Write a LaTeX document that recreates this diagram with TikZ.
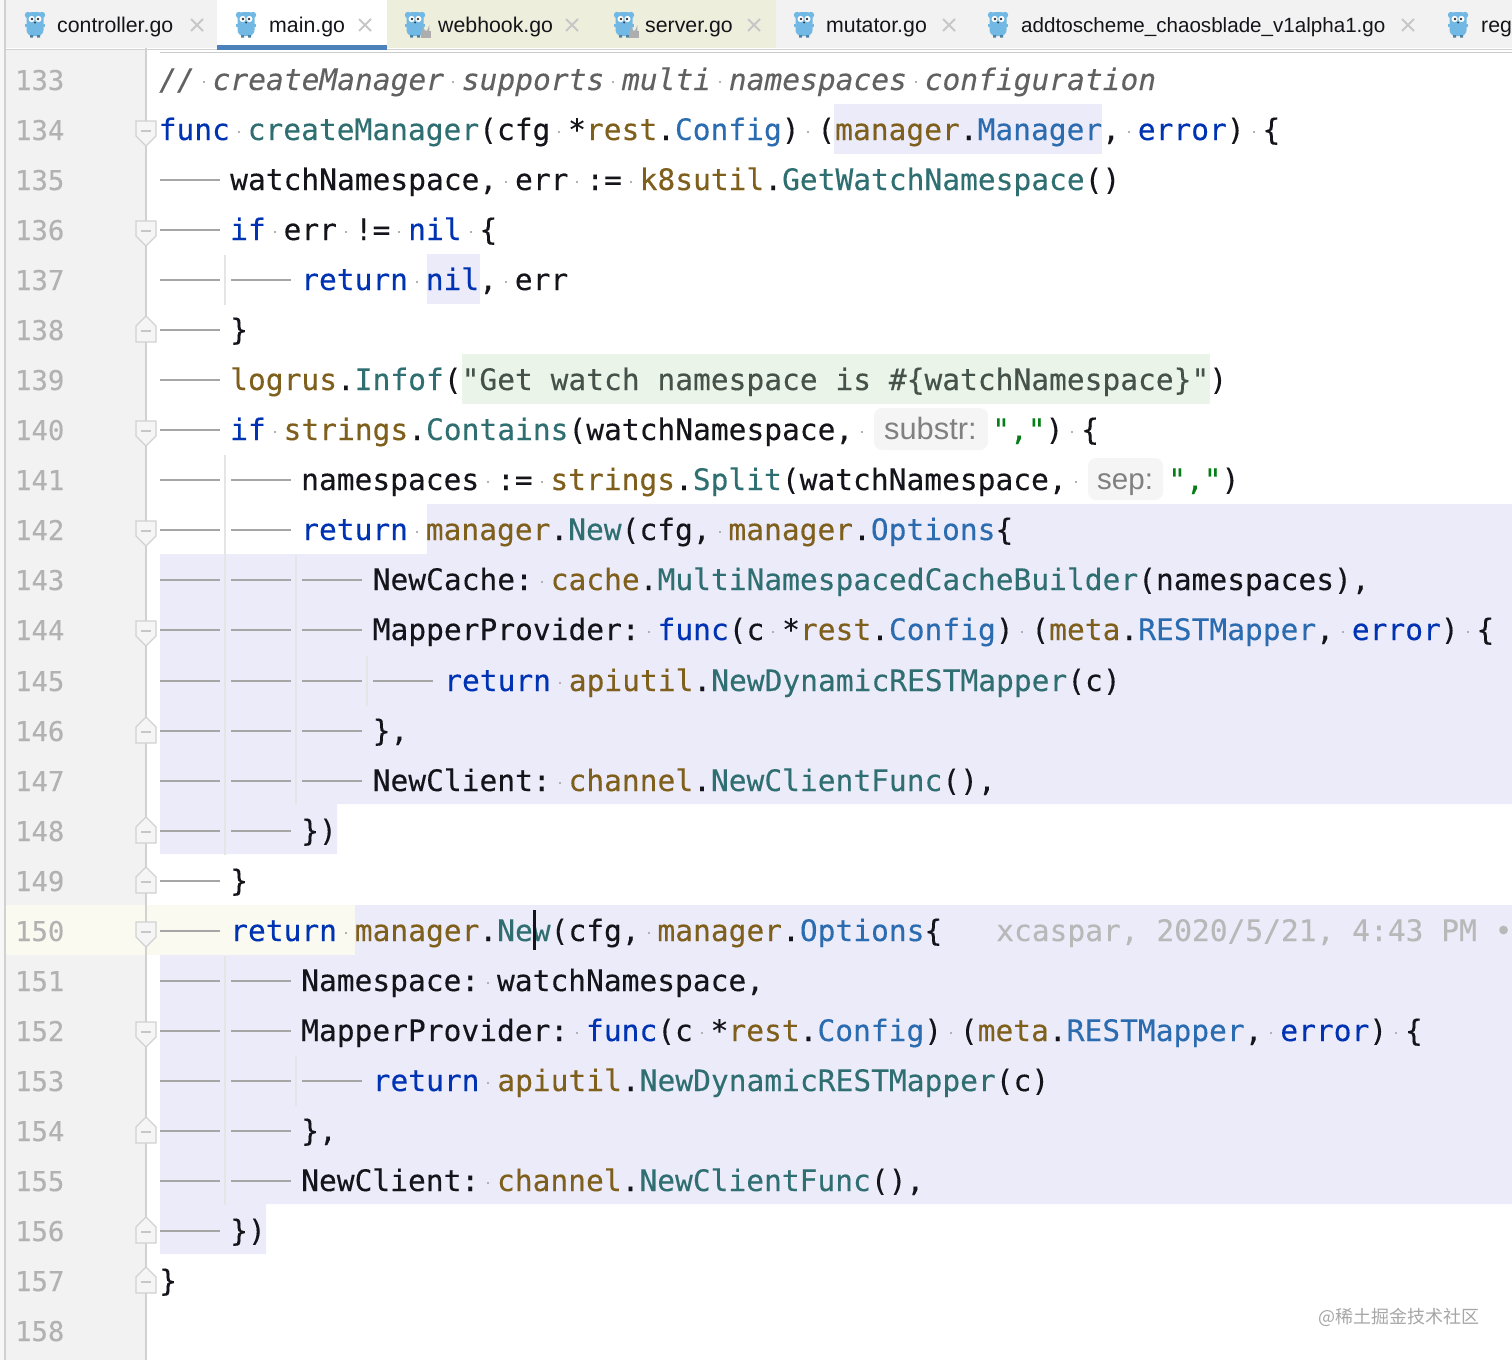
\documentclass[tikz,border=0pt]{standalone}
\usepackage{fontspec}
\setmainfont{Liberation Sans}
\newfontfamily\codeface{DejaVu Sans Mono}[FakeBold=0.25]
\newfontfamily\cjkface{Noto Sans CJK SC}
\newcommand{\codefont}{\codeface\fontsize{29.57}{32}\selectfont}
\newcommand{\numfont}{\codeface\fontsize{27.2}{30}\selectfont}

\definecolor{kwdcol}{HTML}{0033B3}
\definecolor{pkgcol}{HTML}{7F5F1C}
\definecolor{typcol}{HTML}{2B6CB0}
\definecolor{fnccol}{HTML}{2F6F72}
\definecolor{strcol}{HTML}{067D17}
\definecolor{msgcol}{HTML}{44524A}
\definecolor{inkcol}{HTML}{14141A}
\definecolor{selcol}{HTML}{ECEBFA}
\definecolor{grncol}{HTML}{EBF4E8}
\definecolor{curcol}{HTML}{FAFAF0}
\definecolor{guttercol}{HTML}{F2F2F2}
\definecolor{beigecol}{HTML}{EEEEDC}
\definecolor{goblue}{HTML}{72B8E4}

\newcommand{\kwd}[1]{\textcolor{kwdcol}{#1}}
\newcommand{\pkg}[1]{\textcolor{pkgcol}{#1}}
\newcommand{\typ}[1]{\textcolor{typcol}{#1}}
\newcommand{\fnc}[1]{\textcolor{fnccol}{#1}}
\newcommand{\strg}[1]{\textcolor{strcol}{#1}}
\newcommand{\wsp}{\makebox[17.8pt]{\textcolor{black!30}{\raisebox{7pt}{\rule{2pt}{2pt}}}}}

\tikzset{
  code/.style={anchor=base west,inner sep=0pt,font=\codefont,text=inkcol},
  lineno/.style={anchor=base west,inner sep=0pt,font=\numfont,text=black!30},
  tabname/.style={anchor=base west,inner sep=0pt,font=\fontsize{21.3}{24}\selectfont,text=inkcol},
  hintname/.style={anchor=base west,inner sep=0pt,font=\fontsize{29.5}{32}\selectfont,text=black!50},
  hintbox/.style={fill=black!4,rounded corners=8pt},
  indent/.style={draw=black!35,line width=1.8pt},
  guide/.style={draw=black!10,line width=1.5pt},
  tabclose/.style={draw=black!22,line width=1.8pt},
  gopher/.pic={
    \fill[goblue] (-7,-10) circle (3.2) (7,-10) circle (3.2);
    \fill[goblue,rounded corners=6pt] (-8.5,-13) rectangle (8.5,11);
    \fill[goblue] (-10,-1) rectangle (10,2);
    \fill[goblue!70!black] (-5,10) rectangle (-2,12.5) (2,10) rectangle (5,12.5);
    \fill[white] (-3.4,-6) circle (3.1) (3.4,-6) circle (3.1);
    \fill[black!80] (-3,-6) circle (1.3) (3,-6) circle (1.3) (0,-2.5) circle (1);
  },
  golock/.pic={
    \draw[black!32,line width=1.5pt] (-2.6,0) -- (-2.6,-2) arc (180:0:2.6) -- (2.6,0);
    \fill[black!32] (-5,0) rectangle (5,7);
  },
  foldopen/.pic={
    \draw[draw=black!18,fill=white!96!black,line width=1.3pt] (-10,-9) -- (10,-9) -- (10,6) -- (0,16) -- (-10,6) -- cycle;
    \draw[draw=black!22,line width=1.5pt] (-5,1) -- (5,1);
  },
  foldclose/.pic={
    \draw[draw=black!18,fill=white!96!black,line width=1.3pt] (-10,12) -- (10,12) -- (10,-4) -- (0,-14) -- (-10,-4) -- cycle;
    \draw[draw=black!22,line width=1.5pt] (-5,1) -- (5,1);
  },
}

\begin{document}
\begin{tikzpicture}[x=1pt,y=-1pt]
\useasboundingbox (0,0) rectangle (1512,1360);

% Draw the gutter and the tab bar
\fill[black!3] (0,0) rectangle (5,1360);
\fill[guttercol] (5,50) rectangle (146,1360);
\fill[guttercol] (5,0) rectangle (1512,48);
\fill[white] (217,0) rectangle (387,48);
\fill[beigecol] (387,0) rectangle (776,48);

% Draw the line and selection backgrounds
\fill[curcol] (5,905) rectangle (355,955);
\fill[selcol] (834,104) rectangle (1102,154);
\fill[selcol] (427,254) rectangle (480,304);
\fill[grncol] (462,354) rectangle (1210,404);
\fill[selcol] (427,504) -- (1512,504) -- (1512,804) -- (337,804) -- (337,854) -- (160,854) -- (160,554) -- (427,554) -- cycle;
\fill[selcol] (355,905) -- (1512,905) -- (1512,1204) -- (266,1204) -- (266,1254) -- (160,1254) -- (160,955) -- (355,955) -- cycle;

% Draw the frame lines
\draw[black!18,line width=1.5pt] (5,0) -- (5,1360);
\draw[black!18,line width=1.5pt] (146,48) -- (146,1360);
\draw[black!18,line width=1.5pt] (5,49.5) -- (1512,49.5);
\draw[black!20,line width=1.2pt] (160,52.5) -- (1512,52.5);
\fill[typcol!85!white] (217,45) rectangle (387,50);

% Draw the tabs
\pic at (35,25) {gopher};
\node[tabname] (tabcontroller) at (57,32) {controller.go};
\draw[tabclose] (191,19) -- (203,31) (203,19) -- (191,31);
\pic at (246,25) {gopher};
\node[tabname] (tabmain) at (269,32) {main.go};
\draw[tabclose] (359,19) -- (371,31) (371,19) -- (359,31);
\pic at (415,25) {gopher};
\pic at (426,31) {golock};
\node[tabname] (tabwebhook) at (438,32) {webhook.go};
\draw[tabclose] (566,19) -- (578,31) (578,19) -- (566,31);
\pic at (624,25) {gopher};
\pic at (634,31) {golock};
\node[tabname] (tabserver) at (645,32) {server.go};
\draw[tabclose] (748,19) -- (760,31) (760,19) -- (748,31);
\pic at (804,25) {gopher};
\node[tabname] (tabmutator) at (826,32) {mutator.go};
\draw[tabclose] (943,19) -- (955,31) (955,19) -- (943,31);
\pic at (998,25) {gopher};
\node[tabname,font=\fontsize{20.6}{24}\selectfont] (tabscheme) at (1021,32) {addtoscheme\_chaosblade\_v1alpha1.go};
\draw[tabclose] (1402,19) -- (1414,31) (1414,19) -- (1402,31);
\pic at (1458,25) {gopher};
\node[tabname] (tabreg) at (1481,32) {reg};

% Draw the indent guides
\draw[guide] (225,255) -- (225,305);
\draw[guide] (225,455) -- (225,855);
\draw[guide] (225,956) -- (225,1205);
\draw[guide] (296,555) -- (296,805);
\draw[guide] (296,1056) -- (296,1106);
\draw[guide] (367,656) -- (367,706);

% Draw the indent marks
\draw[indent] (160,180) -- (220,180);
\draw[indent] (160,230) -- (220,230);
\draw[indent] (160,280) -- (220,280) (231,280) -- (291,280);
\draw[indent] (160,330) -- (220,330);
\draw[indent] (160,380) -- (220,380);
\draw[indent] (160,430) -- (220,430);
\draw[indent] (160,480) -- (220,480) (231,480) -- (291,480);
\draw[indent] (160,530) -- (220,530) (231,530) -- (291,530);
\draw[indent] (160,580) -- (220,580) (231,580) -- (291,580) (302,580) -- (362,580);
\draw[indent] (160,630) -- (220,630) (231,630) -- (291,630) (302,630) -- (362,630);
\draw[indent] (160,681) -- (220,681) (231,681) -- (291,681) (302,681) -- (362,681) (373,681) -- (433,681);
\draw[indent] (160,731) -- (220,731) (231,731) -- (291,731) (302,731) -- (362,731);
\draw[indent] (160,781) -- (220,781) (231,781) -- (291,781) (302,781) -- (362,781);
\draw[indent] (160,831) -- (220,831) (231,831) -- (291,831);
\draw[indent] (160,881) -- (220,881);
\draw[indent] (160,931) -- (220,931);
\draw[indent] (160,981) -- (220,981) (231,981) -- (291,981);
\draw[indent] (160,1031) -- (220,1031) (231,1031) -- (291,1031);
\draw[indent] (160,1081) -- (220,1081) (231,1081) -- (291,1081) (302,1081) -- (362,1081);
\draw[indent] (160,1131) -- (220,1131) (231,1131) -- (291,1131);
\draw[indent] (160,1181) -- (220,1181) (231,1181) -- (291,1181);
\draw[indent] (160,1231) -- (220,1231);

% Draw the fold marks
\pic at (146,130) {foldopen};
\pic at (146,230) {foldopen};
\pic at (146,330) {foldclose};
\pic at (146,430) {foldopen};
\pic at (146,530) {foldopen};
\pic at (146,630) {foldopen};
\pic at (146,731) {foldclose};
\pic at (146,831) {foldclose};
\pic at (146,881) {foldclose};
\pic at (146,931) {foldopen};
\pic at (146,1031) {foldopen};
\pic at (146,1131) {foldclose};
\pic at (146,1231) {foldclose};
\pic at (146,1281) {foldclose};

% Draw the line numbers
\node[lineno] (num133) at (15,90) {133};
\node[lineno] (num134) at (15,140) {134};
\node[lineno] (num135) at (15,190) {135};
\node[lineno] (num136) at (15,240) {136};
\node[lineno] (num137) at (15,290) {137};
\node[lineno] (num138) at (15,340) {138};
\node[lineno] (num139) at (15,390) {139};
\node[lineno] (num140) at (15,440) {140};
\node[lineno] (num141) at (15,490) {141};
\node[lineno] (num142) at (15,540) {142};
\node[lineno] (num143) at (15,590) {143};
\node[lineno] (num144) at (15,640) {144};
\node[lineno] (num145) at (15,691) {145};
\node[lineno] (num146) at (15,741) {146};
\node[lineno] (num147) at (15,791) {147};
\node[lineno] (num148) at (15,841) {148};
\node[lineno] (num149) at (15,891) {149};
\node[lineno] (num150) at (15,941) {150};
\node[lineno] (num151) at (15,991) {151};
\node[lineno] (num152) at (15,1041) {152};
\node[lineno] (num153) at (15,1091) {153};
\node[lineno] (num154) at (15,1141) {154};
\node[lineno] (num155) at (15,1191) {155};
\node[lineno] (num156) at (15,1241) {156};
\node[lineno] (num157) at (15,1291) {157};
\node[lineno] (num158) at (15,1341) {158};

% Draw the code lines
\node[code,text=black!62,font=\codefont\itshape] (line133) at (159,90) {//\wsp createManager\wsp supports\wsp multi\wsp namespaces\wsp configuration};
\node[code] (line134) at (158.5,140) {\kwd{func}\wsp\fnc{createManager}(cfg\wsp*\pkg{rest}.\typ{Config})\wsp(\pkg{manager}.\typ{Manager},\wsp\kwd{error})\wsp\{};
\node[code] (line135) at (230,190) {watchNamespace,\wsp err\wsp:=\wsp\pkg{k8sutil}.\fnc{GetWatchNamespace}()};
\node[code] (line136) at (230,240) {\kwd{if}\wsp err\wsp!=\wsp\kwd{nil}\wsp\{};
\node[code] (line137) at (301,290) {\kwd{return}\wsp\kwd{nil},\wsp err};
\node[code] (line138) at (230,340) {\}};
\node[code] (line139) at (230,390) {\pkg{logrus}.\fnc{Infof}(\textcolor{msgcol}{"Get watch namespace is \#\{watchNamespace\}"})};
\node[code] (line140) at (230,440) {\kwd{if}\wsp\pkg{strings}.\fnc{Contains}(watchNamespace,\wsp};
\node[hintbox,minimum width=114pt,minimum height=42pt] (boxsubstr) at (931,429) {};
\node[hintname,font=\fontsize{30.8}{32}\selectfont] (hintsubstr) at (884,439) {substr:};
\node[code] (line140end) at (992,440) {\strg{","})\wsp\{};
\node[code] (line141) at (301,490) {namespaces\wsp:=\wsp\pkg{strings}.\fnc{Split}(watchNamespace,\wsp};
\node[hintbox,minimum width=75pt,minimum height=42pt] (boxsep) at (1125.5,479) {};
\node[hintname] (hintsep) at (1097,489) {sep:};
\node[code] (line141end) at (1168,490) {\strg{","})};
\node[code] (line142) at (301,540) {\kwd{return}\wsp\pkg{manager}.\fnc{New}(cfg,\wsp\pkg{manager}.\typ{Options}\{};
\node[code] (line143) at (372.5,590) {NewCache:\wsp\pkg{cache}.\fnc{MultiNamespacedCacheBuilder}(namespaces),};
\node[code] (line144) at (372.5,640) {MapperProvider:\wsp\kwd{func}(c\wsp*\pkg{rest}.\typ{Config})\wsp(\pkg{meta}.\typ{RESTMapper},\wsp\kwd{error})\wsp\{};
\node[code] (line145) at (444,691) {\kwd{return}\wsp\pkg{apiutil}.\fnc{NewDynamicRESTMapper}(c)};
\node[code] (line146) at (372.5,741) {\},};
\node[code] (line147) at (372.5,791) {NewClient:\wsp\pkg{channel}.\fnc{NewClientFunc}(),};
\node[code] (line148) at (301,841) {\})};
\node[code] (line149) at (230,891) {\}};
\node[code] (line150) at (230,941) {\kwd{return}\wsp\pkg{manager}.\fnc{New}(cfg,\wsp\pkg{manager}.\typ{Options}\{};
\node[code,text=black!28] (blame) at (996,941) {xcaspar, 2020/5/21, 4:43 PM •};
\node[code] (line151) at (301,991) {Namespace:\wsp watchNamespace,};
\node[code] (line152) at (301,1041) {MapperProvider:\wsp\kwd{func}(c\wsp*\pkg{rest}.\typ{Config})\wsp(\pkg{meta}.\typ{RESTMapper},\wsp\kwd{error})\wsp\{};
\node[code] (line153) at (372.5,1091) {\kwd{return}\wsp\pkg{apiutil}.\fnc{NewDynamicRESTMapper}(c)};
\node[code] (line154) at (301,1141) {\},};
\node[code] (line155) at (301,1191) {NewClient:\wsp\pkg{channel}.\fnc{NewClientFunc}(),};
\node[code] (line156) at (230,1241) {\})};
\node[code] (line157) at (159,1291) {\}};

% Draw the caret
\draw[inkcol,line width=3pt] (534,910) -- (534,950);

% Draw the watermark
\node[anchor=west,inner sep=0pt,text=black!35,font=\cjkface\fontsize{18}{20}\selectfont] (watermark) at (1318,1317) {@稀土掘金技术社区};

\end{tikzpicture}
\end{document}
